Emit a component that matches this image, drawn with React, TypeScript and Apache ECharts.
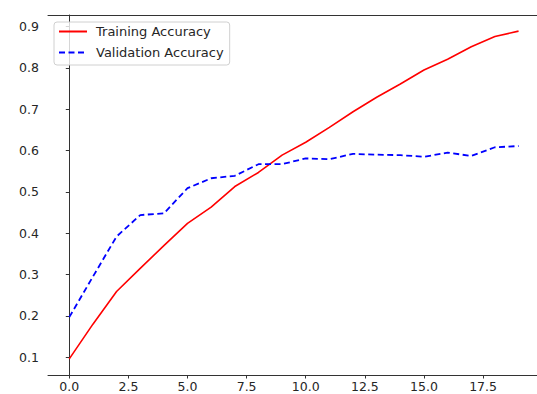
import React, { useEffect, useRef } from "react";
import * as echarts from "echarts";

const epochs = [0, 1, 2, 3, 4, 5, 6, 7, 8, 9, 10, 11, 12, 13, 14, 15, 16, 17, 18, 19];
const trainingAccuracy = [0.096, 0.18, 0.259, 0.315, 0.37, 0.424, 0.463, 0.513, 0.547, 0.589, 0.62, 0.656, 0.694, 0.729, 0.761, 0.795, 0.821, 0.851, 0.876, 0.889];
const validationAccuracy = [0.197, 0.295, 0.392, 0.444, 0.448, 0.509, 0.533, 0.539, 0.567, 0.567, 0.581, 0.579, 0.592, 0.59, 0.589, 0.585, 0.595, 0.587, 0.608, 0.611];
const xTicks = [0, 2.5, 5, 7.5, 10, 12.5, 15, 17.5];
const yTicks = [0.1, 0.2, 0.3, 0.4, 0.5, 0.6, 0.7, 0.8, 0.9];
const seriesNames = ["Training Accuracy", "Validation Accuracy"];

const FONT = "DejaVu Sans";
const INK = "#262626";

export default function App() {
  const ref = useRef<HTMLDivElement>(null);
  useEffect(() => {
    if (!ref.current) return;
    const chart = echarts.init(ref.current, undefined, { renderer: "svg" });
    const axisLine = { show: true, lineStyle: { color: "#333", width: 1 } };
    chart.setOption({
      animation: false,
      backgroundColor: "#fff",
      grid: { left: 48, top: 15, right: 0, bottom: 19, containLabel: false },
      legend: {
        orient: "vertical",
        left: 54,
        top: 22,
        data: seriesNames,
        itemWidth: 28,
        itemHeight: 14,
        itemGap: 8,
        padding: [3, 6, 6, 4],
        backgroundColor: "rgba(255,255,255,0.8)",
        borderColor: "#d0d0d0",
        borderWidth: 1,
        borderRadius: 3,
        itemStyle: { color: "transparent", borderWidth: 0, opacity: 0 },
        textStyle: { fontFamily: FONT, fontSize: 13, color: INK, padding: [0, 0, 0, 4] },
      },
      xAxis: [
        {
          type: "value",
          min: -0.9,
          max: 19.78,
          axisLine,
          splitLine: { show: false },
          axisTick: { show: true, length: 3.5, inside: false, customValues: xTicks, lineStyle: { color: "#333" } },
          axisLabel: {
            customValues: xTicks,
            margin: 5,
            fontFamily: FONT,
            fontSize: 12.5,
            color: INK,
            formatter: (v: number) => v.toFixed(1),
          },
        },
        {
          type: "value",
          position: "top",
          min: -0.9,
          max: 19.78,
          axisLine,
          splitLine: { show: false },
          axisTick: { show: false },
          axisLabel: { show: false },
        },
      ],
      yAxis: {
        type: "value",
        min: 0.057,
        max: 0.928,
        axisLine,
        splitLine: { show: false },
        axisTick: { show: true, length: 3.5, customValues: yTicks, lineStyle: { color: "#333" } },
        axisLabel: {
          customValues: yTicks,
          margin: 9,
          fontFamily: FONT,
          fontSize: 12.5,
          color: INK,
          formatter: (v: number) => v.toFixed(1),
        },
      },
      series: [
        {
          name: seriesNames[0],
          type: "line",
          xAxisIndex: 0,
          data: epochs.map((e, i) => [e, trainingAccuracy[i]]),
          symbol: "none",
          showSymbol: false,
          color: "#ff0000",
          lineStyle: { color: "#ff0000", width: 1.6 },
        },
        {
          name: seriesNames[1],
          type: "line",
          xAxisIndex: 0,
          data: epochs.map((e, i) => [e, validationAccuracy[i]]),
          symbol: "none",
          showSymbol: false,
          color: "#0000ff",
          lineStyle: { color: "#0000ff", width: 1.8, type: [6, 3.5] },
        },
      ],
    });
    return () => chart.dispose();
  }, []);
  return (
    <div
      ref={ref}
      style={{ position: "fixed", left: 0, top: 0, width: 537, height: 394 }}
    />
  );
}
